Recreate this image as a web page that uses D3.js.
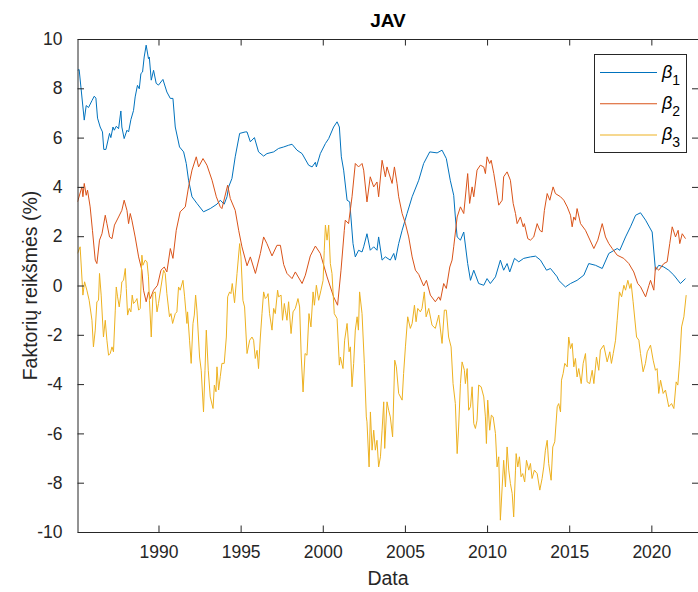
<!DOCTYPE html>
<html>
<head>
<meta charset="utf-8">
<script src="https://cdn.jsdelivr.net/npm/d3@7"></script>
<style>
  body { margin: 0; background: #fff; }
  svg { display: block; font-family: "Liberation Sans", Arial, sans-serif; }
</style>
</head>
<body>
<div id="chart"></div>
<script>
// data: [decimal year, value %]
const beta1 = [
  [1985.07,8.73],[1985.17,8.76],[1985.48,6.71],[1985.60,7.30],[1985.74,7.22],[1985.95,7.50],[1986.09,7.68],[1986.19,7.60],
  [1986.29,6.79],[1986.45,6.43],[1986.59,6.23],[1986.67,5.52],[1986.80,5.52],[1987.02,6.17],[1987.10,6.00],[1987.23,6.43],
  [1987.31,6.30],[1987.43,6.46],[1987.57,6.36],[1987.71,7.08],[1987.77,6.43],[1987.91,5.96],[1988.08,6.30],[1988.18,6.23],
  [1988.32,6.73],[1988.48,7.10],[1988.58,7.65],[1988.72,8.12],[1988.83,7.98],[1988.93,8.60],[1989.03,8.66],[1989.13,9.27],
  [1989.25,9.75],[1989.39,9.20],[1989.44,9.27],[1989.56,8.33],[1989.70,8.73],[1989.86,8.20],[1990.00,8.13],[1990.27,8.36],
  [1990.51,7.85],[1990.72,7.59],[1990.88,7.59],[1991.02,6.43],[1991.28,5.62],[1991.53,5.42],[1991.69,4.95],[1991.83,4.27],
  [1992.04,3.60],[1992.34,3.33],[1992.74,2.99],[1993.15,3.12],[1993.56,3.30],[1993.76,3.46],[1994.00,3.30],[1994.17,3.60],
  [1994.27,4.00],[1994.47,4.34],[1994.67,5.22],[1994.94,6.17],[1995.28,6.23],[1995.39,6.23],[1995.59,5.83],[1995.84,6.00],
  [1996.09,5.42],[1996.40,5.25],[1996.60,5.35],[1997.01,5.42],[1997.31,5.56],[1997.62,5.62],[1997.92,5.69],[1998.13,5.73],
  [1998.43,5.49],[1998.74,5.35],[1999.14,4.88],[1999.35,4.81],[1999.55,5.00],[1999.61,4.81],[1999.85,5.35],[2000.16,5.76],
  [2000.36,5.96],[2000.66,6.43],[2000.87,6.64],[2001.01,6.43],[2001.13,5.22],[2001.27,4.68],[2001.48,3.46],[2001.64,3.39],
  [2001.84,1.70],[2001.98,1.16],[2002.18,1.43],[2002.39,1.36],[2002.49,1.57],[2002.69,2.10],[2002.89,1.43],[2003.10,1.57],
  [2003.30,1.43],[2003.40,1.97],[2003.61,1.03],[2003.81,1.16],[2004.11,1.03],[2004.32,1.30],[2004.42,1.03],[2004.62,1.70],
  [2004.83,2.24],[2005.13,2.92],[2005.44,3.60],[2005.84,4.27],[2006.14,4.95],[2006.51,5.42],[2006.96,5.38],[2007.26,5.49],
  [2007.52,5.15],[2007.76,4.27],[2007.97,3.66],[2008.07,2.78],[2008.18,1.97],[2008.38,1.84],[2008.58,2.17],[2008.82,0.89],
  [2008.99,0.21],[2009.19,0.62],[2009.49,0.08],[2009.80,0.01],[2010.00,0.28],[2010.20,0.08],[2010.51,0.35],[2010.81,1.03],
  [2011.01,0.62],[2011.22,0.89],[2011.38,0.55],[2011.67,1.10],[2011.93,0.96],[2012.23,1.10],[2012.64,1.16],[2012.95,1.19],
  [2013.25,1.03],[2013.62,0.62],[2013.86,0.69],[2014.27,0.35],[2014.36,0.21],[2014.77,-0.06],[2015.08,0.08],[2015.48,0.21],
  [2015.89,0.42],[2016.19,0.89],[2016.60,0.82],[2017.01,0.69],[2017.41,1.30],[2017.92,1.50],[2018.08,1.43],[2018.43,1.97],
  [2018.73,2.38],[2019.04,2.85],[2019.34,2.95],[2019.65,2.65],[2020.05,2.17],[2020.25,0.62],[2020.45,0.82],[2020.76,0.75],
  [2021.06,0.62],[2021.37,0.42],[2021.77,0.08],[2022.08,0.28]
];

const beta2 = [
  [1985.07,3.39],[1985.34,4.00],[1985.40,3.60],[1985.48,4.14],[1985.60,3.66],[1985.68,3.87],[1985.84,3.19],[1985.98,2.24],
  [1986.15,1.03],[1986.25,0.89],[1986.41,1.84],[1986.56,2.10],[1986.76,2.85],[1986.86,2.51],[1987.02,1.97],[1987.17,1.90],
  [1987.32,2.45],[1987.57,2.78],[1987.77,3.05],[1987.91,3.46],[1988.08,3.05],[1988.18,2.51],[1988.28,2.92],[1988.38,2.65],
  [1988.58,1.97],[1988.79,1.16],[1988.99,0.62],[1989.09,-0.19],[1989.25,-0.66],[1989.39,-0.26],[1989.50,-0.53],[1989.70,-0.19],
  [1989.94,0.01],[1990.15,0.62],[1990.35,0.75],[1990.51,0.55],[1990.72,1.50],[1990.88,1.10],[1991.08,2.24],[1991.32,2.99],
  [1991.63,3.19],[1991.83,4.00],[1992.04,4.68],[1992.30,5.22],[1992.44,4.81],[1992.71,5.15],[1992.95,4.88],[1993.26,4.27],
  [1993.52,3.60],[1993.76,3.19],[1993.86,3.12],[1994.21,4.07],[1994.37,3.53],[1994.67,3.05],[1994.88,2.24],[1995.08,1.57],
  [1995.39,0.80],[1995.59,1.16],[1995.90,0.49],[1996.20,1.30],[1996.40,1.97],[1996.60,1.70],[1996.91,1.20],[1997.21,1.63],
  [1997.42,1.63],[1997.62,0.85],[1997.82,0.49],[1998.13,0.28],[1998.33,0.55],[1998.74,0.08],[1998.94,0.42],[1999.24,1.20],
  [1999.55,1.60],[1999.85,1.30],[2000.26,0.35],[2000.66,-0.46],[2000.90,-0.80],[2001.11,0.62],[2001.31,2.24],[2001.37,2.65],
  [2001.57,2.51],[2001.78,3.60],[2001.98,4.95],[2002.18,4.81],[2002.39,4.95],[2002.49,4.68],[2002.69,3.39],[2002.89,4.41],
  [2003.10,4.00],[2003.30,4.20],[2003.40,3.60],[2003.61,5.08],[2003.81,4.41],[2003.91,4.81],[2004.22,4.14],[2004.36,4.81],
  [2004.52,4.14],[2004.62,3.60],[2004.83,2.92],[2005.03,2.51],[2005.23,1.97],[2005.44,1.16],[2005.64,0.62],[2005.84,0.45],
  [2006.14,-0.02],[2006.31,0.21],[2006.55,-0.39],[2006.85,-0.66],[2007.06,-0.46],[2007.16,-0.60],[2007.36,0.08],[2007.52,-0.12],
  [2007.73,0.75],[2007.87,1.03],[2007.97,1.57],[2008.18,2.78],[2008.38,3.19],[2008.58,2.92],[2008.82,4.54],[2008.94,3.33],
  [2009.09,4.00],[2009.19,3.60],[2009.39,4.68],[2009.59,4.88],[2009.80,4.81],[2009.90,4.54],[2010.00,5.22],[2010.16,4.95],
  [2010.25,5.08],[2010.41,4.54],[2010.57,3.87],[2010.71,3.26],[2010.92,3.46],[2011.01,4.41],[2011.22,4.61],[2011.42,4.27],
  [2011.59,3.33],[2011.73,2.92],[2011.83,2.51],[2012.03,2.78],[2012.20,2.38],[2012.27,2.51],[2012.48,1.90],[2012.64,1.84],
  [2012.84,1.97],[2013.05,2.51],[2013.21,2.24],[2013.35,2.17],[2013.49,3.05],[2013.66,3.73],[2013.82,3.46],[2014.02,4.00],
  [2014.16,3.73],[2014.47,3.60],[2014.67,3.46],[2014.88,3.19],[2015.08,2.85],[2015.18,2.38],[2015.28,2.78],[2015.38,2.65],
  [2015.48,3.12],[2015.69,2.51],[2015.99,2.24],[2016.50,1.50],[2016.74,1.84],[2017.01,2.51],[2017.21,1.97],[2017.41,1.70],
  [2017.62,1.50],[2017.92,1.23],[2018.32,1.10],[2018.63,0.89],[2018.93,0.55],[2019.17,0.08],[2019.34,-0.05],[2019.65,-0.46],
  [2019.85,0.00],[2019.95,0.21],[2020.15,-0.19],[2020.25,0.75],[2020.45,0.62],[2020.76,0.89],[2020.96,0.96],[2021.12,1.70],
  [2021.27,2.38],[2021.47,1.97],[2021.63,2.24],[2021.73,1.70],[2021.88,2.10],[2022.08,1.90]
];

const beta3 = [
  [1985.07,1.30],[1985.23,1.57],[1985.40,-0.39],[1985.50,0.15],[1985.64,-0.19],[1985.78,-0.60],[1985.95,-1.41],[1986.04,-2.49],
  [1986.15,-1.81],[1986.25,-0.66],[1986.35,-0.60],[1986.41,0.49],[1986.51,-0.39],[1986.65,-2.09],[1986.76,-1.41],[1986.86,-2.22],
  [1986.96,-2.83],[1987.06,-2.76],[1987.17,-2.49],[1987.26,-2.69],[1987.37,-1.00],[1987.43,-0.06],[1987.51,-0.46],[1987.61,-0.87],
  [1987.71,-0.33],[1987.77,0.15],[1987.87,0.21],[1987.98,0.69],[1988.04,-0.12],[1988.12,-1.20],[1988.22,-0.93],[1988.32,-1.07],
  [1988.40,-0.39],[1988.48,-0.73],[1988.58,-0.66],[1988.69,-0.53],[1988.79,-1.00],[1988.89,-0.93],[1988.99,1.23],[1989.05,0.82],
  [1989.19,1.03],[1989.30,0.96],[1989.39,0.35],[1989.45,-0.60],[1989.56,-2.09],[1989.66,-0.33],[1989.80,-0.26],[1989.91,-1.07],
  [1990.00,-0.73],[1990.15,-0.06],[1990.31,0.62],[1990.41,0.49],[1990.51,-0.33],[1990.67,-1.27],[1990.76,-1.14],[1990.86,-1.54],
  [1991.02,-1.14],[1991.12,-1.07],[1991.22,-0.06],[1991.32,-0.19],[1991.49,0.21],[1991.59,-0.46],[1991.73,-1.54],[1991.77,-1.07],
  [1991.89,-2.22],[1991.99,-3.16],[1992.10,-1.54],[1992.18,-1.20],[1992.26,-0.39],[1992.34,-1.00],[1992.50,-2.90],[1992.60,-3.44],
  [1992.74,-5.13],[1992.83,-3.44],[1992.91,-1.81],[1993.03,-3.44],[1993.15,-4.52],[1993.32,-4.99],[1993.40,-4.04],[1993.50,-4.31],
  [1993.56,-3.30],[1993.66,-4.24],[1993.76,-3.70],[1993.86,-3.16],[1994.00,-3.16],[1994.13,-2.09],[1994.21,-0.46],[1994.33,-0.26],
  [1994.41,-0.33],[1994.49,0.08],[1994.63,-0.70],[1994.78,0.49],[1994.94,1.70],[1995.02,1.16],[1995.14,-0.60],[1995.24,-0.87],
  [1995.39,-2.76],[1995.55,-2.22],[1995.69,-2.09],[1995.79,-2.22],[1995.89,-2.96],[1996.00,-2.63],[1996.09,-3.37],[1996.20,-2.09],
  [1996.30,-1.14],[1996.40,-0.26],[1996.50,-0.53],[1996.60,-0.46],[1996.67,-0.33],[1996.76,-1.14],[1996.91,-1.81],[1997.01,-0.93],
  [1997.11,-1.14],[1997.25,-0.19],[1997.31,-0.46],[1997.46,-0.39],[1997.55,-1.41],[1997.66,-0.73],[1997.72,-1.00],[1997.82,-1.41],
  [1997.92,-0.66],[1998.07,-1.95],[1998.19,-1.07],[1998.33,-0.93],[1998.49,-0.53],[1998.59,-0.87],[1998.69,-2.90],[1998.80,-4.32],
  [1998.92,-2.76],[1999.04,-2.83],[1999.16,-1.14],[1999.28,-1.68],[1999.41,-0.26],[1999.49,-0.80],[1999.61,0.01],[1999.75,-0.60],
  [1999.89,-0.19],[2000.02,0.21],[2000.09,1.43],[2000.16,2.45],[2000.26,1.84],[2000.36,2.45],[2000.46,0.89],[2000.56,0.49],
  [2000.70,-1.14],[2000.87,-1.34],[2001.01,-3.23],[2001.07,-2.90],[2001.23,-3.37],[2001.33,-2.22],[2001.48,-1.54],[2001.60,-2.69],
  [2001.68,-2.49],[2001.78,-4.11],[2001.88,-3.16],[2001.98,-1.81],[2002.09,-1.27],[2002.17,-1.81],[2002.24,-0.26],[2002.39,-1.14],
  [2002.53,-3.16],[2002.65,-5.33],[2002.69,-5.53],[2002.82,-7.36],[2002.90,-5.13],[2003.00,-6.68],[2003.10,-5.87],[2003.20,-6.68],
  [2003.30,-6.28],[2003.40,-7.36],[2003.51,-6.95],[2003.61,-5.87],[2003.71,-4.72],[2003.77,-6.61],[2003.91,-4.72],[2004.01,-5.06],
  [2004.11,-5.33],[2004.25,-6.14],[2004.38,-3.03],[2004.48,-3.30],[2004.62,-4.38],[2004.83,-4.65],[2004.92,-3.57],[2005.03,-2.49],
  [2005.17,-1.27],[2005.33,-1.74],[2005.44,-1.54],[2005.58,-0.80],[2005.68,-1.47],[2005.78,-0.93],[2005.94,-1.07],[2006.04,-0.93],
  [2006.18,-0.26],[2006.29,-1.27],[2006.45,-0.93],[2006.65,-1.61],[2006.85,-1.74],[2007.06,-1.20],[2007.26,-2.35],[2007.40,-1.00],
  [2007.52,-1.00],[2007.66,-2.09],[2007.81,-2.49],[2007.93,-3.98],[2008.07,-4.79],[2008.18,-6.82],[2008.27,-5.74],[2008.38,-3.98],
  [2008.48,-3.10],[2008.62,-3.44],[2008.68,-3.98],[2008.79,-3.37],[2008.88,-5.06],[2008.99,-4.92],[2009.09,-4.11],[2009.19,-5.60],
  [2009.29,-5.80],[2009.39,-5.47],[2009.49,-4.04],[2009.64,-4.11],[2009.80,-4.52],[2009.90,-5.33],[2009.96,-6.41],[2010.04,-4.65],
  [2010.16,-5.87],[2010.26,-5.26],[2010.37,-5.33],[2010.51,-6.00],[2010.61,-7.36],[2010.71,-6.95],[2010.81,-9.52],[2010.92,-8.17],
  [2011.01,-7.09],[2011.12,-8.17],[2011.22,-6.55],[2011.32,-7.49],[2011.42,-8.03],[2011.53,-8.44],[2011.62,-9.39],[2011.73,-7.49],
  [2011.77,-6.82],[2011.87,-7.36],[2011.97,-6.95],[2012.07,-7.76],[2012.17,-7.63],[2012.29,-7.97],[2012.40,-7.09],[2012.54,-7.49],
  [2012.64,-7.22],[2012.74,-7.83],[2012.88,-7.49],[2013.05,-7.63],[2013.21,-8.30],[2013.35,-7.83],[2013.45,-7.36],[2013.55,-6.68],
  [2013.66,-6.28],[2013.75,-7.22],[2013.90,-7.90],[2014.00,-6.55],[2014.12,-6.34],[2014.27,-4.92],[2014.36,-4.79],[2014.47,-5.13],
  [2014.53,-3.84],[2014.63,-3.57],[2014.73,-3.16],[2014.88,-3.30],[2014.97,-2.09],[2015.08,-2.56],[2015.18,-2.35],[2015.28,-3.30],
  [2015.38,-2.96],[2015.48,-3.71],[2015.58,-3.37],[2015.73,-3.98],[2015.85,-3.16],[2015.99,-2.76],[2016.09,-3.91],[2016.25,-3.98],
  [2016.40,-3.44],[2016.50,-3.98],[2016.66,-2.90],[2016.80,-3.44],[2016.90,-2.62],[2017.10,-2.42],[2017.31,-3.10],[2017.47,-2.69],
  [2017.57,-3.16],[2017.68,-2.76],[2017.82,-2.22],[2017.92,-1.41],[2018.06,-0.26],[2018.19,-0.46],[2018.33,0.01],[2018.43,-0.19],
  [2018.57,0.21],[2018.69,-0.12],[2018.77,0.08],[2018.89,-0.66],[2019.10,-2.09],[2019.24,-2.22],[2019.34,-2.76],[2019.50,-3.50],
  [2019.64,-3.16],[2019.75,-2.69],[2019.95,-2.42],[2020.11,-3.03],[2020.25,-3.44],[2020.35,-3.37],[2020.45,-4.38],[2020.56,-3.84],
  [2020.72,-4.38],[2020.86,-4.24],[2021.06,-4.92],[2021.23,-4.79],[2021.37,-4.99],[2021.51,-3.91],[2021.61,-4.04],[2021.73,-3.03],
  [2021.84,-1.68],[2021.98,-1.27],[2022.12,-0.39]
];

const seriesNames = ["1", "2", "3"];          // subscripts of beta
const seriesColors = ["#0072BD", "#D95319", "#EDB120"];
const xTicks = [1990, 1995, 2000, 2005, 2010, 2015, 2020];
const yTicks = [-10, -8, -6, -4, -2, 0, 2, 4, 6, 8, 10];
const xRange = [1985.07, 2022.87];
const yRange = [-10, 10];

const W = 698, H = 592;
const plot = {left: 77.5, right: 698.5, top: 39, bottom: 532};
const axisColor = "#262626";

const svg = d3.select("#chart").append("svg")
    .attr("width", W).attr("height", H);

const x = d3.scaleLinear().domain(xRange).range([plot.left, plot.right]);
const y = d3.scaleLinear().domain(yRange).range([plot.bottom, plot.top]);

svg.append("clipPath").attr("id", "clip")
  .append("rect")
    .attr("x", plot.left).attr("y", plot.top)
    .attr("width", plot.right - plot.left).attr("height", plot.bottom - plot.top);

// lines
const line = d3.line().x(d => x(d[0])).y(d => y(d[1]));
const allSeries = [beta1, beta2, beta3];
svg.append("g").attr("clip-path", "url(#clip)")
  .selectAll("path")
  .data(allSeries)
  .join("path")
    .attr("d", line)
    .attr("fill", "none")
    .attr("stroke", (d, i) => seriesColors[i])
    .attr("stroke-width", 1)
    .attr("stroke-linejoin", "round");

// axes (MATLAB style box with inward ticks)
const tickLen = 6.5;
function styleAxis(g) {
  g.select(".domain").attr("stroke", axisColor);
  g.selectAll(".tick line").attr("stroke", axisColor);
  g.selectAll(".tick text")
    .attr("fill", axisColor)
    .attr("font-size", 17.5)
    .attr("font-family", "'Liberation Sans', Arial, sans-serif");
}

svg.append("g")
    .attr("transform", `translate(0,${plot.bottom})`)
    .call(d3.axisBottom(x).tickValues(xTicks).tickFormat(d3.format("d"))
      .tickSizeInner(-tickLen).tickSizeOuter(0).tickPadding(14))
    .call(styleAxis);

svg.append("g")
    .attr("transform", `translate(0,${plot.top})`)
    .call(d3.axisTop(x).tickValues(xTicks).tickFormat("")
      .tickSizeInner(-tickLen).tickSizeOuter(0))
    .call(styleAxis);

svg.append("g")
    .attr("transform", `translate(${plot.left},0)`)
    .call(d3.axisLeft(y).tickValues(yTicks).tickFormat(d3.format("d"))
      .tickSizeInner(-tickLen).tickSizeOuter(0).tickPadding(15))
    .call(styleAxis);

svg.append("g")
    .attr("transform", `translate(${plot.right},0)`)
    .call(d3.axisRight(y).tickValues(yTicks).tickFormat("")
      .tickSizeInner(-tickLen).tickSizeOuter(0))
    .call(styleAxis);

// use a real minus-like hyphen as in the reference
svg.selectAll(".tick text").each(function() {
  const t = d3.select(this);
  t.text(t.text().replace("\u2212", "-"));
});

// title and labels
svg.append("text")
    .attr("x", (plot.left + plot.right) / 2).attr("y", 27)
    .attr("text-anchor", "middle")
    .attr("font-size", 19).attr("font-weight", "bold")
    .attr("fill", "#000")
    .text("JAV");

svg.append("text")
    .attr("x", (plot.left + plot.right) / 2).attr("y", 585)
    .attr("text-anchor", "middle")
    .attr("font-size", 19.5).attr("fill", axisColor)
    .text("Data");

svg.append("text")
    .attr("transform", `translate(37,${(plot.top + plot.bottom) / 2}) rotate(-90)`)
    .attr("text-anchor", "middle")
    .attr("font-size", 19.5).attr("fill", axisColor)
    .text("Faktorių reikšmės (%)");

// legend
const legend = svg.append("g");
legend.append("rect")
    .attr("x", 594.5).attr("y", 54.5)
    .attr("width", 92).attr("height", 98)
    .attr("fill", "#fff").attr("stroke", axisColor).attr("stroke-width", 1);

const legendRow = d3.scaleLinear().domain([0, 2]).range([72.5, 135]);
const items = legend.selectAll("g.item")
  .data(seriesNames)
  .join("g").attr("class", "item");

items.append("line")
    .attr("x1", 600).attr("x2", 657)
    .attr("y1", (d, i) => legendRow(i)).attr("y2", (d, i) => legendRow(i))
    .attr("stroke", (d, i) => seriesColors[i]).attr("stroke-width", 1);

const lbl = items.append("text")
    .attr("x", 662).attr("y", (d, i) => legendRow(i) + 5)
    .attr("fill", "#000");
lbl.append("tspan")
    .attr("font-size", 18).attr("font-style", "italic")
    .text("β");
lbl.append("tspan")
    .attr("font-size", 14).attr("dy", 7)
    .text(d => d);
</script>
</body>
</html>
